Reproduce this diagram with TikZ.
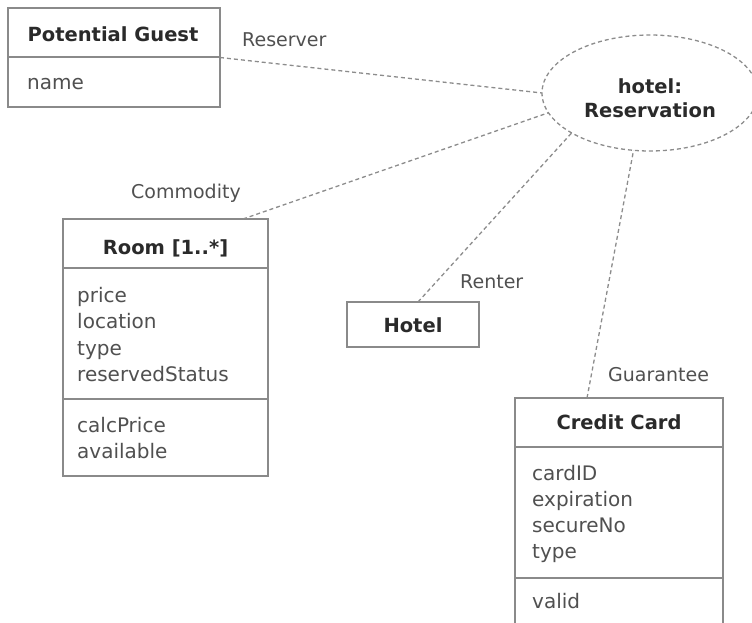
\documentclass[tikz,border=0pt]{standalone}
\usepackage{fontspec}
\setmainfont{DejaVu Sans}
\usetikzlibrary{shapes.geometric}
\definecolor{boxgray}{HTML}{8A8A8A}
\definecolor{txtgray}{HTML}{505050}
\definecolor{titlegray}{HTML}{2A2A2A}
\definecolor{dashgray}{HTML}{8C8C8C}
\begin{document}
\begin{tikzpicture}[x=1pt,y=-1pt,
  umlbox/.style={draw=boxgray,line width=1.6pt,inner sep=0pt,outer sep=0pt,fill=white},
  divline/.style={draw=boxgray,line width=1.6pt},
  attr/.style={anchor=base west,inner sep=0pt,text=txtgray,font=\fontsize{20}{26.5}\selectfont},
  lbl/.style={anchor=base west,inner sep=0pt,text=txtgray,font=\fontsize{19}{24}\selectfont},
  ttl/.style={anchor=base,inner sep=0pt,text=titlegray,font=\fontsize{19.5}{24}\selectfont\bfseries},
  conn/.style={draw=dashgray,line width=1.3pt,dash pattern=on 4pt off 3pt}]
\useasboundingbox (0,0) rectangle (752,623);
\clip (0,0) rectangle (752,623);

% Reservation ellipse
\node[ellipse,draw=dashgray,line width=1.3pt,dash pattern=on 4pt off 3pt,
      minimum width=216pt,minimum height=116pt,inner sep=0pt,outer sep=0pt] (res) at (650,93) {};
\node[inner sep=0pt,text=titlegray,align=center,
      font=\fontsize{19.5}{24}\selectfont\bfseries] (restext) at (650,98) {hotel:\\Reservation};

% Potential Guest
\node[umlbox,minimum width=212pt,minimum height=99pt] (guest) at (114,57.5) {};
\draw[divline] (guest.west |- 0,57) -- (guest.east |- 0,57);
\node[ttl] (guestT) at (113,42) {Potential Guest};
\node[attr] (guestA) at (27,90) {name};

% Room
\node[umlbox,minimum width=205pt,minimum height=257pt] (room) at (165.5,347.5) {};
\draw[divline] (room.west |- 0,268) -- (room.east |- 0,268);
\draw[divline] (room.west |- 0,399) -- (room.east |- 0,399);
\node[ttl] (roomT) at (165.5,254) {Room [1..*]};
\node[attr] (ra1) at (77,302) {price};
\node[attr] (ra2) at (77,328.5) {location};
\node[attr] (ra3) at (77,355) {type};
\node[attr] (ra4) at (77,381.5) {reservedStatus};
\node[attr] (rm1) at (77,432) {calcPrice};
\node[attr] (rm2) at (77,458) {available};

% Hotel
\node[umlbox,minimum width=132pt,minimum height=45pt] (hotel) at (413,324.5) {};
\node[ttl] (hotelT) at (413,332) {Hotel};

% Credit Card
\node[umlbox,minimum width=208pt,minimum height=262pt] (card) at (619,529) {};
\draw[divline] (card.west |- 0,447) -- (card.east |- 0,447);
\draw[divline] (card.west |- 0,578) -- (card.east |- 0,578);
\node[ttl] (cardT) at (619,429) {Credit Card};
\node[attr] (ca1) at (532,480) {cardID};
\node[attr] (ca2) at (532,506) {expiration};
\node[attr] (ca3) at (532,532) {secureNo};
\node[attr] (ca4) at (532,558) {type};
\node[attr] (cm1) at (532,608) {valid};

% Connectors
\draw[conn] (guest.east) -- (res.180);
\draw[conn] ([xshift=-25pt]room.north east) -- (res.191);
\draw[conn] ([xshift=5pt]hotel.north) -- (res.207);
\draw[conn] ([xshift=-32pt]card.north) -- (res.254);

% Role labels
\node[lbl] (lReserver) at (242,47) {Reserver};
\node[lbl] (lCommodity) at (131,198) {Commodity};
\node[lbl] (lRenter) at (460,288) {Renter};
\node[lbl] (lGuarantee) at (608,381) {Guarantee};
\end{tikzpicture}
\end{document}
